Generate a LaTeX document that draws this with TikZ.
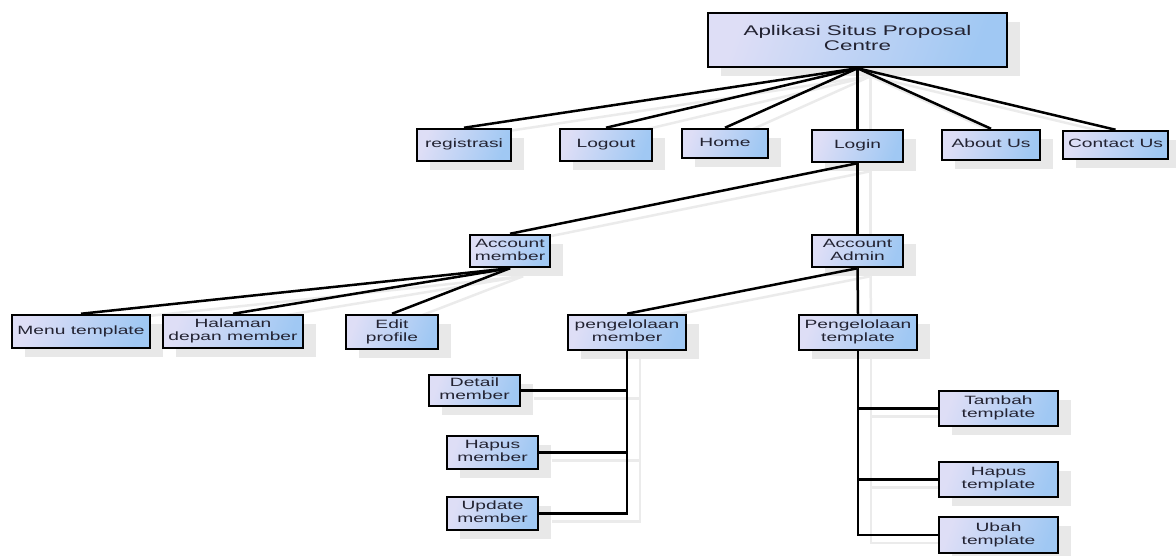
\documentclass[tikz,border=0pt]{standalone}
\usepackage{fontspec}
\setmainfont{Liberation Sans}
\usetikzlibrary{shadows}
\pgfdeclarelayer{bg}
\pgfsetlayers{bg,main}
\definecolor{lav}{RGB}{222,222,246}
\definecolor{sky}{RGB}{160,200,243}
\definecolor{txt}{RGB}{35,35,50}
\newcommand\bx[1]{\scalebox{1.6}[1]{\begin{tabular}{@{}c@{}}#1\end{tabular}}}
\tikzset{
  box/.style={draw=black, line width=2.5pt, shading=axis, left color=lav, right color=sky, shading angle=70, inner sep=0pt,
    text=txt, font=\fontsize{12}{13.3}\selectfont,
    drop shadow={shadow xshift=13pt, shadow yshift=-9pt, fill=black!9, opacity=1}},
  conn/.style={line width=2.5pt, black},
  connsh/.style={line width=2.5pt, black!8},
}
\begin{document}
\begin{tikzpicture}[x=1pt,y=-1pt]
\useasboundingbox (0,0) rectangle (1176,555);
% level 0
\node[box, minimum width=299, minimum height=54, font=\fontsize{14}{15}\selectfont] (top) at (857.5,40) {\bx{Aplikasi Situs Proposal\\Centre}};
% level 1
\node[box, minimum width=94, minimum height=32] (reg) at (464,145) {\bx{registrasi}};
\node[box, minimum width=92, minimum height=32] (logout) at (606,145) {\bx{Logout}};
\node[box, minimum width=86, minimum height=29] (home) at (725,143.5) {\bx{Home}};
\node[box, minimum width=91, minimum height=32] (login) at (857.5,146) {\bx{Login}};
\node[box, minimum width=98, minimum height=30] (about) at (991,145) {\bx{About Us}};
\node[box, minimum width=105, minimum height=28] (contact) at (1115.5,145) {\bx{Contact Us}};
% level 2
\node[box, minimum width=80, minimum height=32] (am) at (510,251) {\bx{Account\\member}};
\node[box, minimum width=91, minimum height=32] (admin) at (857.5,251) {\bx{Account\\Admin}};
% level 3
\node[box, minimum width=138, minimum height=33] (menu) at (81,331.5) {\bx{Menu template}};
\node[box, minimum width=140, minimum height=33] (hal) at (233,331.5) {\bx{Halaman\\depan member}};
\node[box, minimum width=92, minimum height=34] (edit) at (392,332) {\bx{Edit\\profile}};
\node[box, minimum width=118, minimum height=35] (pm) at (627,332.5) {\bx{pengelolaan\\member}};
\node[box, minimum width=118, minimum height=35] (pt) at (858,332.5) {\bx{Pengelolaan\\template}};
% level 4
\node[box, minimum width=91, minimum height=31] (det) at (474.5,390.5) {\bx{Detail\\member}};
\node[box, minimum width=91, minimum height=33] (hm) at (492.5,452.5) {\bx{Hapus\\member}};
\node[box, minimum width=91, minimum height=33] (upd) at (492.5,513.5) {\bx{Update\\member}};
\node[box, minimum width=119, minimum height=35] (tam) at (998.5,408.5) {\bx{Tambah\\template}};
\node[box, minimum width=119, minimum height=35] (ht) at (998.5,479.5) {\bx{Hapus\\template}};
\node[box, minimum width=119, minimum height=36] (ubah) at (998.5,535) {\bx{Ubah\\template}};
% connectors
\newcommand\allconn[1]{%
  \foreach \n in {reg,logout,home,login,about,contact} \draw[#1] (top.south) -- (\n.north);
  \draw[#1] (login.south) -- (am.north);
  \draw[#1] (login.south) -- (admin.north);
  \foreach \n in {menu,hal,edit} \draw[#1] (am.south) -- (\n.north);
  \draw[#1] (admin.south) -- (pm.north);
  \draw[#1] (admin.south) -- (pt.north);
  \draw[#1] (pm.south) |- (upd.east);
  \draw[#1] (det.east) -- (det.east -| pm.south);
  \draw[#1] (hm.east) -- (hm.east -| pm.south);
  \draw[#1] (pt.south) |- (ubah.west);
  \draw[#1] (tam.west) -- (tam.west -| pt.south);
  \draw[#1] (ht.west) -- (ht.west -| pt.south);
}
\begin{pgfonlayer}{bg}
\begin{scope}[transform canvas={shift={(13,8)}}]
\allconn{connsh}
\end{scope}
\end{pgfonlayer}
\allconn{conn}
\end{tikzpicture}
\end{document}
